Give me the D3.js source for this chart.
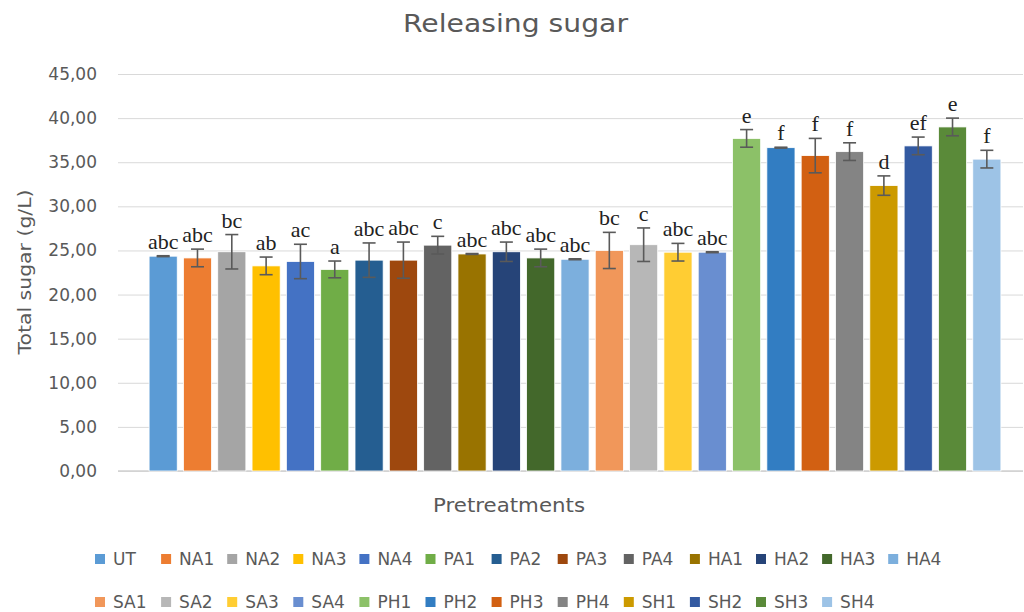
<!DOCTYPE html>
<html>
<head>
<meta charset="utf-8">
<script src="https://cdn.jsdelivr.net/npm/d3@7"></script>
<style>
  html, body { margin: 0; padding: 0; background: #fff; }
  svg { display: block; }
</style>
</head>
<body>
<svg id="chart" width="1024" height="612"></svg>
<script>
// Pretreatments and their measured total sugar (g/L)
const categories = ["UT", "NA1", "NA2", "NA3", "NA4", "PA1", "PA2", "PA3", "PA4",
  "HA1", "HA2", "HA3", "HA4", "SA1", "SA2", "SA3", "SA4",
  "PH1", "PH2", "PH3", "PH4", "SH1", "SH2", "SH3", "SH4"];
const sugarValues = [24.35, 24.15, 24.85, 23.25, 23.75, 22.85, 23.9, 23.9, 25.6,
  24.6, 24.85, 24.15, 24.0, 25.0, 25.65, 24.8, 24.8,
  37.7, 36.65, 35.75, 36.2, 32.35, 36.85, 39.0, 35.35];
const sugarErrors = [0.05, 1.0, 1.95, 1.0, 1.95, 0.95, 1.95, 2.05, 1.0,
  0.05, 1.1, 1.0, 0.05, 2.05, 1.9, 1.0, 0.05,
  1.0, 0.05, 1.95, 1.0, 1.1, 1.0, 1.0, 1.0];
const groupLetters = ["abc", "abc", "bc", "ab", "ac", "a", "abc", "abc", "c",
  "abc", "abc", "abc", "abc", "bc", "c", "abc", "abc",
  "e", "f", "f", "f", "d", "ef", "e", "f"];
const barColors = ["#5B9BD5", "#ED7D31", "#A5A5A5", "#FFC000", "#4472C4", "#70AD47", "#255E91", "#9E480E", "#636363",
  "#997300", "#264478", "#43682B", "#7CAFDD", "#F1975A", "#B7B7B7", "#FFCD33", "#698ED0",
  "#8CC168", "#327DC2", "#D26012", "#848484", "#CC9A00", "#335AA1", "#5A8A39", "#9DC3E6"];
const yTicks = [0, 5, 10, 15, 20, 25, 30, 35, 40, 45];

const svg = d3.select("#chart");
const textColor = "#595959";
const sansFont = "'DejaVu Sans', sans-serif";

const plotLeft = 118, plotRight = 1023, plotTop = 74, plotBottom = 471;

const y = d3.scaleLinear().domain([0, 45]).range([plotBottom, plotTop]);
const x = d3.scaleBand().domain(categories).range([146, 1004])
  .paddingInner(0.18).paddingOuter(0.09);

const fmt = v => d3.format(".2f")(v).replace(".", ",");

// Gridlines and tick labels
const yAxis = d3.axisLeft(y).tickValues(yTicks).tickFormat(fmt)
  .tickSize(-(plotRight - plotLeft)).tickPadding(21);
const gAxis = svg.append("g").attr("transform", `translate(${plotLeft},0)`).call(yAxis);
gAxis.select(".domain").remove();
gAxis.selectAll(".tick line").attr("stroke", "#d9d9d9").attr("stroke-width", 1);
gAxis.selectAll(".tick text").attr("fill", textColor)
  .style("font-family", sansFont).style("font-size", "17px");

// Category axis line
svg.append("line").attr("x1", plotLeft).attr("x2", plotRight)
  .attr("y1", y(0)).attr("y2", y(0)).attr("stroke", "#d0d0d0").attr("stroke-width", 1.3);

const rows = categories.map((c, i) => ({
  name: c, value: sugarValues[i], err: sugarErrors[i], letter: groupLetters[i], color: barColors[i]
}));

// Bars
svg.append("g").selectAll("rect").data(rows).join("rect")
  .attr("x", d => x(d.name))
  .attr("y", d => y(d.value))
  .attr("width", x.bandwidth())
  .attr("height", d => y(0) - y(d.value))
  .attr("fill", d => d.color)
  .attr("stroke", "#ffffff").attr("stroke-width", 0.8);

// Error bars
const eb = svg.append("g").attr("stroke", "#5a5a5a").attr("stroke-width", 1.6);
const cap = 6.5;
rows.forEach(d => {
  const cx = x(d.name) + x.bandwidth() / 2;
  const top = y(d.value + d.err), bot = y(d.value - d.err);
  eb.append("line").attr("x1", cx).attr("x2", cx).attr("y1", top).attr("y2", bot);
  eb.append("line").attr("x1", cx - cap).attr("x2", cx + cap).attr("y1", top).attr("y2", top);
  eb.append("line").attr("x1", cx - cap).attr("x2", cx + cap).attr("y1", bot).attr("y2", bot);
});

// Significance letters
svg.append("g").selectAll("text").data(rows).join("text")
  .attr("x", d => x(d.name) + x.bandwidth() / 2)
  .attr("y", d => y(d.value + d.err) - 7)
  .attr("text-anchor", "middle")
  .attr("fill", "#222")
  .style("font-family", "'Liberation Serif', 'Times New Roman', serif")
  .style("font-size", "22px")
  .text(d => d.letter);

// Titles
svg.append("text").attr("x", 515.5).attr("y", 32).attr("text-anchor", "middle")
  .attr("fill", textColor).style("font-family", sansFont).style("font-size", "25px")
  .attr("textLength", 225).attr("lengthAdjust", "spacingAndGlyphs")
  .text("Releasing sugar");

svg.append("text").attr("x", 509).attr("y", 512).attr("text-anchor", "middle")
  .attr("fill", textColor).style("font-family", sansFont).style("font-size", "19px")
  .attr("textLength", 152).attr("lengthAdjust", "spacingAndGlyphs")
  .text("Pretreatments");

svg.append("text").attr("transform", "translate(31,272) rotate(-90)").attr("text-anchor", "middle")
  .attr("fill", textColor).style("font-family", sansFont).style("font-size", "18px")
  .attr("textLength", 165).attr("lengthAdjust", "spacingAndGlyphs")
  .text("Total sugar (g/L)");

// Legend: two rows on a shared column grid
const perRow = 13;
const legendCol = d3.scaleLinear().domain([0, 1]).range([95, 161.1]);
const legend = svg.append("g").selectAll("g").data(rows).join("g")
  .attr("transform", (d, i) => `translate(${legendCol(i % perRow)},${i < perRow ? 565 : 608})`);
legend.append("rect").attr("x", 0).attr("y", -11).attr("width", 10).attr("height", 10)
  .attr("fill", d => d.color);
legend.append("text").attr("x", 18).attr("y", 0).attr("fill", textColor)
  .style("font-family", sansFont).style("font-size", "17px")
  .text(d => d.name);
</script>
</body>
</html>
